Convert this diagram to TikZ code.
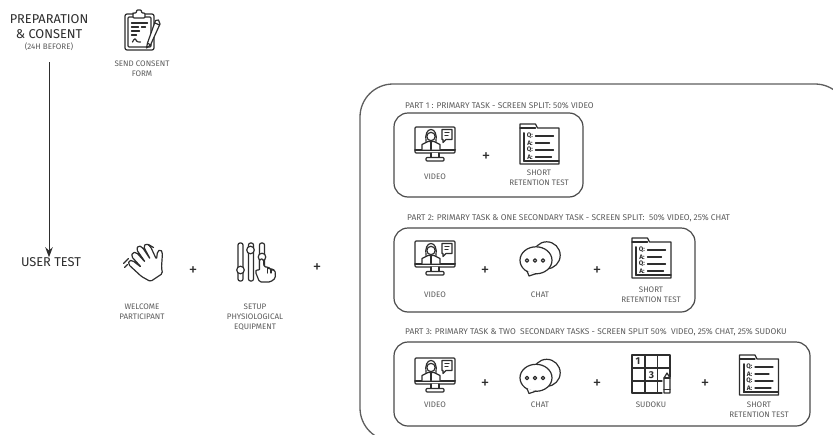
\documentclass[tikz,border=0pt]{standalone}
\usepackage{fontspec}
\setmainfont{Fira Sans}
\usepackage{xcolor}
\usetikzlibrary{positioning,arrows.meta}
\definecolor{inkdark}{HTML}{2E2E2E}
\definecolor{inkgray}{HTML}{5C5C5C}
\definecolor{framegray}{HTML}{5E5E5E}
\tikzset{
    iconline/.style={draw=inkdark, line width=1.2pt, line join=round, line cap=round},
    iconmark/.style={text=inkdark, font=\fontsize{6.5}{6.5}\selectfont\bfseries, inner sep=0pt},
    monitoricon/.pic={
        \draw[iconline, rounded corners=1pt] (-20,-17.5) rectangle (20,8.5);
        \draw[iconline, line width=2pt] (-20,5) -- (20,5);
        \draw[iconline, fill=white] (-4,8.5) -- (-4,13) -- (4,13) -- (4,8.5);
        \draw[iconline, fill=white, rounded corners=1pt] (-9,13) rectangle (9,16.5);
        % persona
        \draw[iconline, fill=white] (-13,5) -- (-13,0) -- (-7,-3) -- (-1,-3) -- (5,0) -- (5,5);
        \draw[iconline, fill=white] (-4,-8) circle (4.2);
        \draw[iconline] (-9,-3) .. controls (-10,-10) and (-8,-15) .. (-4,-15) .. controls (0,-15) and (2,-10) .. (1,-3);
        \draw[iconline] (-4,-3) -- (-4,5);
        % fumetto
        \draw[iconline, fill=white] (7,-15) -- (17,-15) -- (17,-5) -- (11,-5) -- (8,-2) -- (8,-5) -- (7,-5) -- cycle;
        \draw[iconline] (10,-12) -- (14,-12);
        \draw[iconline] (10,-9) -- (13,-9);
    },
    chaticon/.pic={
        \draw[iconline] (6.7,-2.7) circle (13.5);
        \draw[iconline, fill=white] (-4,2.3) ellipse (16 and 13.5);
        \draw[iconline, fill=white] (-13,13) -- (-11,18) -- (-4,15.6);
        \draw[iconline] (-13,2.5) circle (1.8);
        \draw[iconline] (-5,2.5) circle (1.8);
        \draw[iconline] (3,2.5) circle (1.8);
    },
    testicon/.pic={
        \draw[iconline, fill=white] (-19.5,20) -- (-19.5,-20) -- (-4,-20) -- (-2,-16) -- (19.5,-16) -- (19.5,20) -- cycle;
        \draw[iconline] (-19.5,-16) -- (-4,-16);
        \draw[iconline, line width=2pt] (-15.5,-11) -- (-15.5,17);
        \draw[iconline] (-15.5,17) -- (19.5,17);
        \node[iconmark] (-qa) at (-9.5,-8) {Q:};
        \node[iconmark] (-aa) at (-9.5,-1) {A:};
        \node[iconmark] (-qb) at (-9.5,6) {Q:};
        \node[iconmark] (-ab) at (-9.5,13) {A:};
        \draw[iconline] (-4,-8) -- (14,-8);
        \draw[iconline] (-4,-1) -- (10,-1);
        \draw[iconline] (-4,6) -- (14,6);
        \draw[iconline] (-4,13) -- (12,13);
    },
    sudokuicon/.pic={
        \draw[iconline, line width=1.3pt] (-19,19) -- (-19,-19) -- (19,-19) -- (19,3);
        \draw[iconline, line width=1.3pt] (-19,19) -- (11,19);
        \draw[iconline, line width=1.3pt] (-6,-19) -- (-6,19);
        \draw[iconline, line width=1.3pt] (6.5,-19) -- (6.5,19);
        \draw[iconline, line width=1.3pt] (-19,-6) -- (19,-6);
        \draw[iconline, line width=1.3pt] (-19,7) -- (11,7);
        \node[iconmark, font=\fontsize{10}{10}\selectfont\bfseries] (-one) at (-13,-13) {1};
        \node[iconmark, font=\fontsize{10}{10}\selectfont\bfseries] (-three) at (0.5,1) {3};
        \draw[iconline, fill=white] (13,19) -- (13,4) -- (16,-1) -- (19,4) -- (19,19) -- cycle;
        \draw[iconline] (13,4) -- (19,4);
        \draw[iconline] (13,15.5) -- (19,15.5);
    },
    clipboardicon/.pic={
        \draw[iconline, rounded corners=2pt] (-17.5,-16) rectangle (11.5,20);
        \draw[iconline, rounded corners=1pt] (-14.5,-13) rectangle (8.5,17);
        \draw[iconline, fill=white, rounded corners=1pt] (-9.5,-16) -- (-9.5,-17) -- (-6,-17) -- (-6,-20) -- (-1,-20) -- (-1,-17) -- (2.5,-17) -- (2.5,-12) -- (-9.5,-12) -- cycle;
        \draw[iconline] (-11,-7) -- (5,-7);
        \draw[iconline] (-11,-3) -- (-4,-3);
        \draw[iconline] (-1,-3) -- (3,-3);
        \draw[iconline] (-11,1) -- (-3,1);
        \draw[iconline] (-11,5) -- (-6,5);
        \draw[iconline] (-10,12) .. controls (-8,8) and (-7,8) .. (-6,11) .. controls (-5,13) and (-4,11) .. (-2,12);
        \draw[iconline, fill=white] (5,13) -- (4,18) -- (8,15) -- (17.5,-6) -- (16,-10) -- (13,-9.5) -- cycle;
        \draw[iconline] (5,13) -- (8,15);
        \draw[iconline] (12.5,-7) -- (17,-5);
    },
    waveicon/.pic={
        \draw[iconline, fill=white, rounded corners=1.6pt] (8,19) -- (-1,14) -- (-14,2) -- (-13.5,-2) -- (-10,-2) -- (-1,5) -- (-11,-6) -- (-10,-10) -- (-6,-10) -- (3,0) -- (-6,-13) -- (-4,-17) -- (0,-15) -- (8,-3) -- (1,-16) -- (4,-19) -- (8,-16) -- (14,-3) -- (15,-11) -- (18,-13) -- (20,-10) -- (19,5) -- (20,11) -- cycle;
        \draw[iconline] (-19,1) -- (-14,-4);
        \draw[iconline] (-18,5) -- (-15,2);
        \draw[iconline] (6,-18) -- (11,-15);
    },
    slidericon/.pic={
        \draw[iconline, rounded corners=2pt] (-17.5,-19) rectangle (-12.5,19);
        \draw[iconline, rounded corners=2pt] (-7,-19) rectangle (-2,19);
        \draw[iconline, rounded corners=2pt] (4,-19) rectangle (9,10);
        \draw[iconline, fill=white] (-15,8) circle (3.8);
        \draw[iconline, fill=white] (-5,-12) circle (3.8);
        \draw[iconline, fill=white] (6.5,-5) circle (3.8);
        \draw[iconline, fill=white, rounded corners=1.6pt] (4,-3) -- (8,-3) -- (8.5,5) -- (13,5) -- (13.5,7) -- (16,7) -- (17,8) -- (19.5,8) -- (20,16) -- (15,20) -- (4,20) -- (0,10) -- (1,7) -- (4,9) -- cycle;
        \draw[iconline] (12,5.5) -- (12,11);
        \draw[iconline] (15.5,7.5) -- (15.5,11);
    }
}
\begin{document}
\begin{tikzpicture}[
    x=1pt, y=-1pt,
    stagelabel/.style={text=inkdark, font=\fontsize{12.8}{15}\selectfont, align=center, inner sep=0pt},
    caption/.style={text=inkgray, font=\fontsize{8}{10}\selectfont, align=center, inner sep=0pt},
    parttitle/.style={text=inkgray, font=\fontsize{8.35}{9}\selectfont, anchor=west, inner sep=0pt},
    plussign/.style={text=inkdark, font=\fontsize{17}{17}\selectfont, inner sep=0pt},
    outerbox/.style={draw=framegray, line width=1.3pt, rounded corners=33pt},
    partbox/.style={draw=framegray!80!black, line width=1.2pt, rounded corners=14pt},
    flow/.style={draw=inkdark, line width=1pt, -{Stealth[length=10pt,width=7.5pt]}}
]
    \clip (0,0) rectangle (833,434);
    \fill[white] (0,0) rectangle (833,434);

    % Colonna di sinistra: fasi
    \node[stagelabel] (prep) at (49,27) {PREPARATION\\\& CONSENT};
    \node[caption] (before) at (49,47) {(24H BEFORE)};
    \node[stagelabel] (user) at (51,262) {USER TEST};
    \coordinate (flowstart) at (49,62);
    \draw[flow] (flowstart) -- (flowstart |- user.north);

    % Preparazione
    \pic (consent) at (142.5,30) {clipboardicon};
    \node[caption] (consentlabel) at (142,69) {SEND CONSENT\\FORM};

    % Avvio del test
    \pic (welcome) at (142.5,262.5) {waveicon};
    \node[caption] (welcomelabel) at (142,312) {WELCOME\\PARTICIPANT};
    \node[plussign] (plusa) at (193,271) {+};
    \pic (setup) at (255.5,262) {slidericon};
    \node[caption] (setuplabel) at (255,317) {SETUP\\PHYSIOLOGICAL\\EQUIPMENT};
    \node[plussign] (plusb) at (317,268) {+};

    % Riquadro esterno
    \draw[outerbox] (360,84) rectangle (848,441);

    % Parte 1
    \node[parttitle] (titlea) at (405,106) {PART 1 : PRIMARY TASK - SCREEN SPLIT: 50\% VIDEO};
    \draw[partbox] (394,113) rectangle (583,197);
    \pic (videoa) at (435,144.5) {monitoricon};
    \node[caption] (videolabela) at (435,177) {VIDEO};
    \node[plussign] (plusc) at (486,157) {+};
    \pic (testa) at (539.5,144) {testicon};
    \node[caption] (testlabela) at (539,177.5) {SHORT\\RETENTION TEST};

    % Parte 2
    \node[parttitle] (titleb) at (407,218) {PART 2: PRIMARY TASK \& ONE SECONDARY TASK - SCREEN SPLIT:\ \ 50\% VIDEO, 25\% CHAT};
    \draw[partbox] (394,228) rectangle (695,312);
    \pic (videob) at (435,258.5) {monitoricon};
    \node[caption] (videolabelb) at (435,295) {VIDEO};
    \node[plussign] (plusd) at (485,271) {+};
    \pic (chatb) at (540,258) {chaticon};
    \node[caption] (chatlabelb) at (540,295) {CHAT};
    \node[plussign] (pluse) at (597,271) {+};
    \pic (testb) at (651.5,258) {testicon};
    \node[caption] (testlabelb) at (651,295) {SHORT\\RETENTION TEST};

    % Parte 3
    \node[parttitle] (titlec) at (405,332) {PART 3: PRIMARY TASK \& TWO\ \ SECONDARY TASKS - SCREEN SPLIT 50\%\ \ VIDEO, 25\% CHAT, 25\% SUDOKU};
    \draw[partbox] (394,342) rectangle (810,426);
    \pic (videoc) at (435,375.5) {monitoricon};
    \node[caption] (videolabelc) at (435,405) {VIDEO};
    \node[plussign] (plusf) at (485,384) {+};
    \pic (chatc) at (540,375.5) {chaticon};
    \node[caption] (chatlabelc) at (540,405) {CHAT};
    \node[plussign] (plusg) at (597,384) {+};
    \pic (sudoku) at (651,374) {sudokuicon};
    \node[caption] (sudokulabel) at (651,405) {SUDOKU};
    \node[plussign] (plush) at (705,384) {+};
    \pic (testc) at (759,375) {testicon};
    \node[caption] (testlabelc) at (759,410) {SHORT\\RETENTION TEST};
\end{tikzpicture}
\end{document}
